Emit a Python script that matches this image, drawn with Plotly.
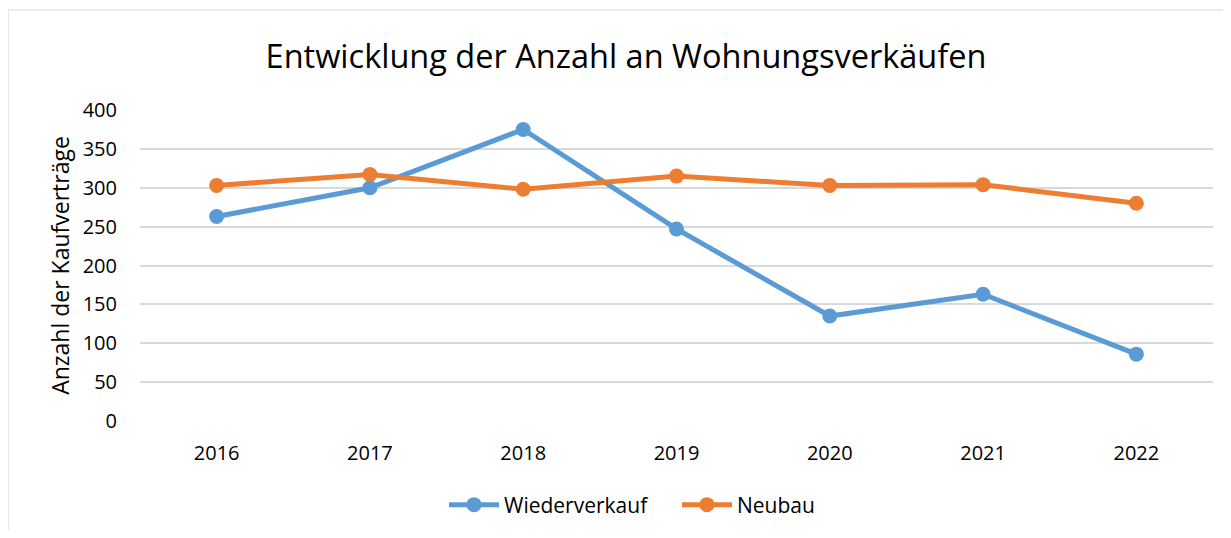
import plotly.graph_objects as go

years = ["2016", "2017", "2018", "2019", "2020", "2021", "2022"]
wiederverkauf = [263, 300, 375, 247, 135, 163, 86]
neubau = [303, 317, 298, 315, 303, 304, 280]
y_ticks = [0, 50, 100, 150, 200, 250, 300, 350, 400]

BLUE = "#5B9BD5"
ORANGE = "#ED7D31"
FONT = "Open Sans"

fig = go.Figure()
fig.add_trace(go.Scatter(
    x=years, y=wiederverkauf, name="Wiederverkauf", mode="lines+markers",
    line=dict(color=BLUE, width=5), marker=dict(color=BLUE, size=15),
))
fig.add_trace(go.Scatter(
    x=years, y=neubau, name="Neubau", mode="lines+markers",
    line=dict(color=ORANGE, width=5), marker=dict(color=ORANGE, size=15),
))

# page body has an 8px margin; work in screen pixels and subtract it
OFF = 8
W, H = 1231 - 2 * OFF, 538 - 2 * OFF
PL, PR, PT, PB = 140, 1213, 110, 421  # plot area in screen pixels
L, R, T, B = PL - OFF, W - (PR - OFF), PT - OFF, H - (PB - OFF)
pw, ph = W - L - R, H - T - B

def px_x(p):
    return (p - OFF - L) / pw

def px_y(p):
    return (H - B - (p - OFF)) / ph

fig.update_layout(
    width=W, height=H,
    margin=dict(l=L, r=R, t=T, b=B, autoexpand=False),
    paper_bgcolor="white", plot_bgcolor="white",
    font=dict(family=FONT, size=20, color="#000000"),
    title=dict(text="Entwicklung der Anzahl an Wohnungsverkäufen",
               x=px_x(626), xanchor="center", xref="paper",
               y=1 - (57 - OFF) / H, yanchor="middle",
               font=dict(family=FONT, size=32.5, color="#000000")),
    showlegend=True,
    legend=dict(orientation="h", x=px_x(444), xanchor="left",
                y=px_y(505), yanchor="middle", font=dict(size=21),
                itemwidth=50, entrywidth=168, entrywidthmode="pixels",
                bgcolor="rgba(0,0,0,0)"),
    xaxis=dict(type="category", range=[-0.5, 6.5], showgrid=False,
               showline=False, ticks="", zeroline=False,
               tickfont=dict(size=20), ticklabelstandoff=18),
    yaxis=dict(range=[0, 400], tickvals=y_ticks, showgrid=True,
               gridcolor="#D9D9D9", gridwidth=1.5, zeroline=False,
               showline=False, ticks="", tickfont=dict(size=20),
               ticklabelstandoff=22,
               title=dict(text="Anzahl der Kaufverträge", font=dict(size=23),
                          standoff=6)),
    shapes=[dict(type="rect", xref="paper", yref="paper",
                 x0=px_x(8), x1=px_x(1260), y0=px_y(600), y1=px_y(10),
                 line=dict(color="#D9D9D9", width=1.2), fillcolor="rgba(0,0,0,0)",
                 layer="below")],
)

fig.write_html("out.html")
